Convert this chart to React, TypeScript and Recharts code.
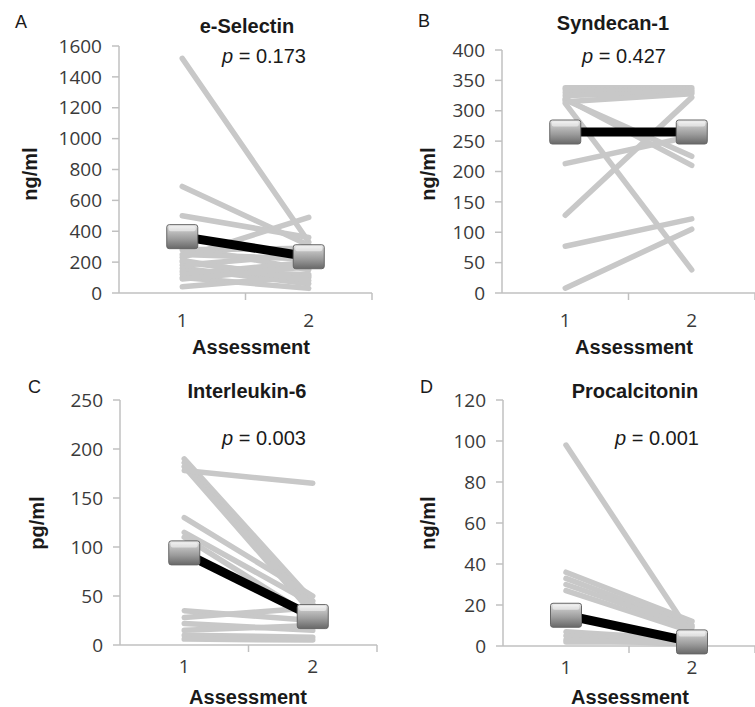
import React from "react";
import { LineChart, Line, XAxis, YAxis } from "recharts";

// subject values at assessment 1 and 2, plus the group mean
const selectin1 = [1520, 690, 500, 230, 280, 300, 250, 200, 180, 160, 140, 120, 100, 40, 210, 90];
const selectin2 = [330, 310, 360, 490, 290, 150, 220, 100, 250, 60, 120, 200, 30, 110, 80, 170];
const selectinMean = [365, 235];
const selectinTicks = [0, 200, 400, 600, 800, 1000, 1200, 1400, 1600];

const syndecan1 = [338, 335, 330, 325, 318, 320, 315, 312, 213, 128, 77, 8];
const syndecan2 = [338, 332, 335, 330, 225, 210, 328, 38, 258, 322, 122, 105];
const syndecanMean = [265, 265];
const syndecanTicks = [0, 50, 100, 150, 200, 250, 300, 350, 400];

const il6_1 = [190, 186, 182, 178, 130, 115, 110, 35, 28, 22, 15, 10, 6];
const il6_2 = [45, 38, 32, 165, 50, 42, 28, 25, 38, 15, 20, 8, 5];
const il6Mean = [94, 29];
const il6Ticks = [0, 50, 100, 150, 200, 250];

const pct1 = [98, 36, 33, 30, 27, 7, 5, 3, 2];
const pct2 = [5, 12, 10, 9, 7, 3, 2, 1, 2];
const pctMean = [15, 2];
const pctTicks = [0, 20, 40, 60, 80, 100, 120];

const assessments = [1, 2];
const xTicks = [1, 1.5, 2, 2.5];

const AXIS = "#c0c0c0";
const GREY = "#c8c8c8";
const TICK_FONT = "'Open Sans', sans-serif";
const TICK_FILL = "#3a3a3a";
const LABEL_FONT = "'Liberation Sans', Arial, sans-serif";

function buildRows(first: number[], second: number[], mean: number[]) {
  return assessments.map((a, k) => {
    const row: Record<string, number> = { x: a, mean: mean[k] };
    const src = k === 0 ? first : second;
    src.forEach((v, i) => (row["s" + i] = v));
    return row;
  });
}

const XTick = (props: any) => {
  const { x, y, payload, labelDy } = props;
  const v = payload.value;
  if (Number.isInteger(v)) {
    return (
      <text x={x} y={y + labelDy} textAnchor="middle" fill={TICK_FILL} fontSize={19} fontFamily={TICK_FONT}>
        {v}
      </text>
    );
  }
  return <line x1={x} x2={x} y1={y - 7} y2={y} stroke={AXIS} strokeWidth={1.5} />;
};

const Marker = (props: any) => {
  const { cx, cy, gid } = props;
  if (cx == null || cy == null) return null;
  return (
    <g>
      <rect x={cx - 15.5} y={cy - 12} width={31} height={24} rx={2.5} fill={`url(#${gid})`} stroke="#666" strokeWidth={1} />
      <rect x={cx - 13.5} y={cy - 10.5} width={27} height={5} rx={2} fill="#ffffff" opacity={0.5} />
    </g>
  );
};

type PanelProps = {
  id: string;
  left: number;
  top: number;
  width: number;
  height: number;
  margin: { top: number; right: number; bottom: number; left: number };
  first: number[];
  second: number[];
  mean: number[];
  ticks: number[];
  labelDy: number;
};

function Panel({ id, left, top, width, height, margin, first, second, mean, ticks, labelDy }: PanelProps) {
  const rows = buildRows(first, second, mean);
  const gid = "mk-" + id;
  return (
    <div style={{ position: "absolute", left, top }}>
      <LineChart width={width} height={height} data={rows} margin={margin}>
        <defs>
          <linearGradient id={gid} x1="0" y1="0" x2="0" y2="1">
            <stop offset="0%" stopColor="#f2f2f2" />
            <stop offset="18%" stopColor="#c9c9c9" />
            <stop offset="60%" stopColor="#9b9b9b" />
            <stop offset="100%" stopColor="#686868" />
          </linearGradient>
        </defs>
        <XAxis
          dataKey="x"
          type="number"
          domain={[0.5, 2.5]}
          ticks={xTicks}
          interval={0}
          height={40}
          tickSize={7}
          tickMargin={0}
          tickLine={false}
          axisLine={{ stroke: AXIS, strokeWidth: 1.5 }}
          tick={<XTick labelDy={labelDy} />}
        />
        <YAxis
          type="number"
          domain={[0, ticks[ticks.length - 1]]}
          ticks={ticks}
          interval={0}
          width={60}
          tickSize={7}
          tickMargin={10}
          axisLine={{ stroke: AXIS, strokeWidth: 1.5 }}
          tickLine={{ stroke: AXIS, strokeWidth: 1.5 }}
          tick={{ fill: TICK_FILL, fontSize: 19, fontFamily: TICK_FONT }}
        />
        {first.map((_, i) => (
          <Line
            key={i}
            dataKey={"s" + i}
            stroke={GREY}
            strokeWidth={5.5}
            strokeLinecap="round"
            dot={false}
            activeDot={false}
            isAnimationActive={false}
          />
        ))}
        <Line
          dataKey="mean"
          stroke="#000000"
          strokeWidth={9}
          dot={<Marker gid={gid} />}
          activeDot={false}
          isAnimationActive={false}
        />
      </LineChart>
    </div>
  );
}

const bold = { fontFamily: LABEL_FONT, fontWeight: 700, fontSize: 20, fill: "#1a1a1a" } as const;
const plain = { fontFamily: LABEL_FONT, fontSize: 20, fill: "#1a1a1a" } as const;

function PValue({ x, y, value }: { x: number; y: number; value: string }) {
  return (
    <text x={x} y={y} {...plain}>
      <tspan fontStyle="italic">p</tspan> = {value}
    </text>
  );
}

function YTitle({ x, y, text }: { x: number; y: number; text: string }) {
  return (
    <text x={x} y={y} dy="0.35em" textAnchor="middle" transform={`rotate(-90 ${x} ${y})`} {...bold}>
      {text}
    </text>
  );
}

export default function App() {
  return (
    <div style={{ position: "absolute", left: 0, top: 0, width: 755, height: 707, background: "#fff", overflow: "hidden" }}>
      <Panel id="a" left={0} top={0} width={380} height={350}
        margin={{ top: 46, right: 8, bottom: 17, left: 59 }}
        first={selectin1} second={selectin2} mean={selectinMean} ticks={selectinTicks} labelDy={27} />
      <Panel id="b" left={380} top={0} width={375} height={350}
        margin={{ top: 50, right: 0, bottom: 17, left: 62 }}
        first={syndecan1} second={syndecan2} mean={syndecanMean} ticks={syndecanTicks} labelDy={27} />
      <Panel id="c" left={0} top={350} width={380} height={357}
        margin={{ top: 50, right: 3, bottom: 22, left: 60 }}
        first={il6_1} second={il6_2} mean={il6Mean} ticks={il6Ticks} labelDy={21} />
      <Panel id="d" left={380} top={350} width={375} height={357}
        margin={{ top: 50, right: 0, bottom: 21, left: 63 }}
        first={pct1} second={pct2} mean={pctMean} ticks={pctTicks} labelDy={21} />

      <svg width={755} height={707} style={{ position: "absolute", left: 0, top: 0, pointerEvents: "none" }}>
        <text x={15} y={28} {...plain} fontSize={18}>A</text>
        <text x={418} y={27} {...plain} fontSize={18}>B</text>
        <text x={28} y={393} {...plain} fontSize={18}>C</text>
        <text x={420} y={393} {...plain} fontSize={18}>D</text>

        <text x={247} y={33} textAnchor="middle" {...bold}>e-Selectin</text>
        <text x={613} y={30} textAnchor="middle" {...bold}>Syndecan-1</text>
        <text x={247} y={398} textAnchor="middle" {...bold}>Interleukin-6</text>
        <text x={635} y={398} textAnchor="middle" {...bold}>Procalcitonin</text>

        <PValue x={222} y={63} value="0.173" />
        <PValue x={582} y={63} value="0.427" />
        <PValue x={222} y={445} value="0.003" />
        <PValue x={615} y={445} value="0.001" />

        <YTitle x={30} y={174} text="ng/ml" />
        <YTitle x={428} y={174} text="ng/ml" />
        <YTitle x={37} y={523} text="pg/ml" />
        <YTitle x={428} y={523} text="ng/ml" />

        <text x={251} y={354} textAnchor="middle" {...bold}>Assessment</text>
        <text x={634} y={354} textAnchor="middle" {...bold}>Assessment</text>
        <text x={248} y={704} textAnchor="middle" {...bold}>Assessment</text>
        <text x={630} y={704} textAnchor="middle" {...bold}>Assessment</text>
      </svg>
    </div>
  );
}
